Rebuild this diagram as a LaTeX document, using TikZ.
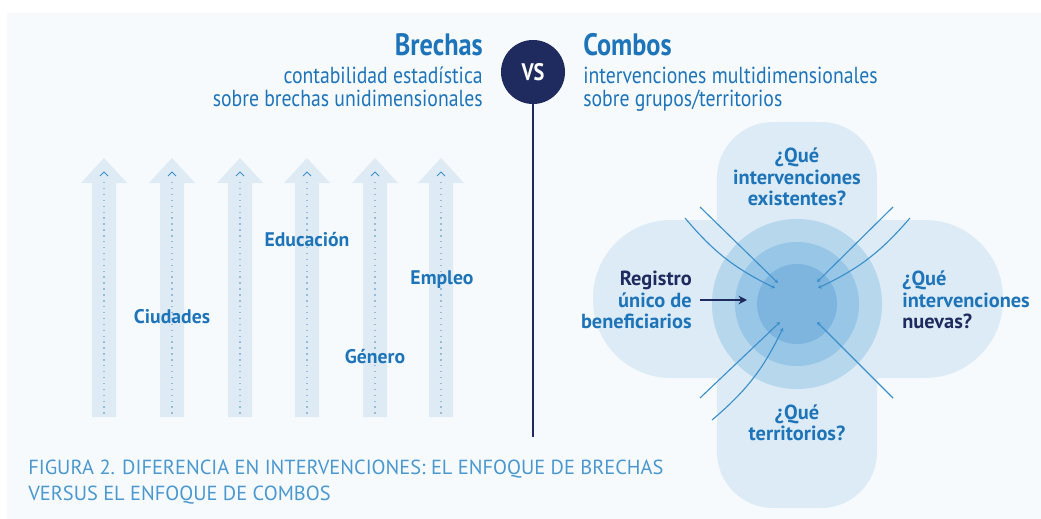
\documentclass[tikz,border=0pt]{standalone}
\usepackage{fontspec}
\setmainfont{PT Sans}
\newfontfamily\condfont{PT Sans}[FakeStretch=0.85]
\usetikzlibrary{arrows.meta}

\definecolor{navy}{HTML}{1F2B5E}
\definecolor{textblue}{HTML}{1E74B9}
\definecolor{capblue}{HTML}{4A98CF}
\definecolor{panel}{HTML}{F6FAFD}
\definecolor{lobe}{HTML}{DCEBF6}
\definecolor{ringout}{HTML}{B7D7ED}
\definecolor{ringmid}{HTML}{98C6E6}
\definecolor{ringcore}{HTML}{7DB5DE}
\definecolor{flow}{HTML}{3B8FCB}
\definecolor{shaft}{HTML}{DEEBF4}
\definecolor{dots}{HTML}{94BDDA}

\tikzset{
  headline/.style={font=\condfont\bfseries\fontsize{22}{24}\selectfont, text=textblue, inner sep=0pt},
  subline/.style={font=\condfont\fontsize{16.5}{16.3}\selectfont, text=textblue, inner sep=0pt},
  dimlabel/.style={font=\bfseries\fontsize{14}{16}\selectfont, text=textblue, inner sep=0pt},
  qlabel/.style={font=\bfseries\fontsize{14.5}{15.3}\selectfont, text=textblue, inner sep=0pt},
  flowline/.style={flow, line width=0.8pt, -{Stealth[length=2.5pt,width=3pt]}},
  ring/.style={circle, inner sep=0pt, draw=none}
}

\begin{document}
\begin{tikzpicture}[x=0.025cm, y=-0.025cm]
  \useasboundingbox (0,0) rectangle (1041,519);
  \fill[panel] (7,13) rectangle (1041,519);

  % brechas
  \node[headline, anchor=east] (brechas) at (483,45) {Brechas};
  \node[subline, anchor=north east, align=right] (brechasSub) at (483,67)
    {contabilidad estadística\\sobre brechas unidimensionales};

  % vs
  \node[ring, fill=navy, minimum size=1.6cm, text=white,
    font=\condfont\bfseries\fontsize{17}{17}\selectfont] (vs) at (533,72) {VS};
  \coordinate (vsEnd) at (533,437);
  \draw[navy, line width=1pt] (vs.south) -- (vsEnd);

  % combos
  \node[headline, anchor=west] (combos) at (583,45) {Combos};
  \node[subline, anchor=north west, align=left] (combosSub) at (583,67)
    {intervenciones multidimensionales\\sobre grupos/territorios};

  % flechas de brechas
  \foreach \c in {104,172,240,307,375,441}{
    \fill[shaft] (\c-12,417) -- (\c-12,183) -- (\c-23,183) -- (\c,158)
      -- (\c+23,183) -- (\c+12,183) -- (\c+12,417) -- cycle;
    \draw[dots, line width=0.9pt, dash pattern=on 1pt off 3.2pt] (\c,182) -- (\c,416);
    \draw[flow, line width=0.7pt] (\c-4,176) -- (\c,172) -- (\c+4,176);
  }
  \node[dimlabel] (ciudades) at (172,317) {Ciudades};
  \node[dimlabel] (educacion) at (307,240) {Educación};
  \node[dimlabel] (empleo) at (442,280) {Empleo};
  \node[dimlabel] (genero) at (375,357) {Género};

  % combos: lobulos y anillos
  \fill[lobe, rounded corners=1.4cm] (717,122) rectangle (877,508);
  \fill[lobe, rounded corners=1.95cm] (593,220) rectangle (1003,378);
  \node[ring, fill=ringout, minimum size=4.25cm] (ringOut) at (797,304) {};
  \node[ring, fill=ringmid, minimum size=3.1cm] (ringMid) at (797,304) {};
  \node[ring, fill=ringcore, minimum size=2.0cm] (ringCore) at (797,304) {};

  \node[qlabel, align=center] (existentes) at (797,177)
    {¿Qué\\intervenciones\\existentes?};
  \node[qlabel, align=right, anchor=east] (registro) at (692,300)
    {\textcolor{navy}{Registro}\\único de\\beneficiarios};
  \node[qlabel, align=left, anchor=west] (nuevas) at (902,300)
    {¿Qué\\intervenciones\\\textcolor{navy}{nuevas?}};
  \node[qlabel, align=center] (territorios) at (797,423)
    {¿Qué\\territorios?};

  \coordinate (registroTip) at (747,300);
  \draw[navy, line width=1.4pt, -{Stealth[length=6pt,width=6pt]}]
    ([xshift=0.2cm]registro.east) -- (registroTip);

  % lineas hacia el centro
  \coordinate (tlA) at (700,207);  \coordinate (tlAend) at (778,283);
  \coordinate (tlB) at (685,218);  \coordinate (tlBend) at (775,288);
  \coordinate (trA) at (893,207);  \coordinate (trAend) at (817,282);
  \coordinate (trB) at (910,218);  \coordinate (trBend) at (818,288);
  \coordinate (blA) at (700,398);  \coordinate (blAend) at (780,322);
  \coordinate (blB) at (712,420);  \coordinate (blBend) at (783,328);
  \coordinate (brA) at (893,398);  \coordinate (brAend) at (817,322);
  \draw[flowline] (tlA) -- (tlAend);
  \draw[flowline] (tlB) to[bend right=12] (tlBend);
  \draw[flowline] (trA) -- (trAend);
  \draw[flowline] (trB) to[bend left=12] (trBend);
  \draw[flowline] (blA) -- (blAend);
  \draw[flowline] (blB) to[bend right=12] (blBend);
  \draw[flowline] (brA) -- (brAend);

  % pie de figura
  \node[anchor=north west, align=left, inner sep=0pt, text=capblue,
    font=\fontsize{14.5}{18.4}\selectfont] (caption) at (28,460)
    {FIGURA 2. DIFERENCIA EN INTERVENCIONES: EL ENFOQUE DE BRECHAS\\
     VERSUS EL ENFOQUE DE COMBOS};
\end{tikzpicture}
\end{document}
